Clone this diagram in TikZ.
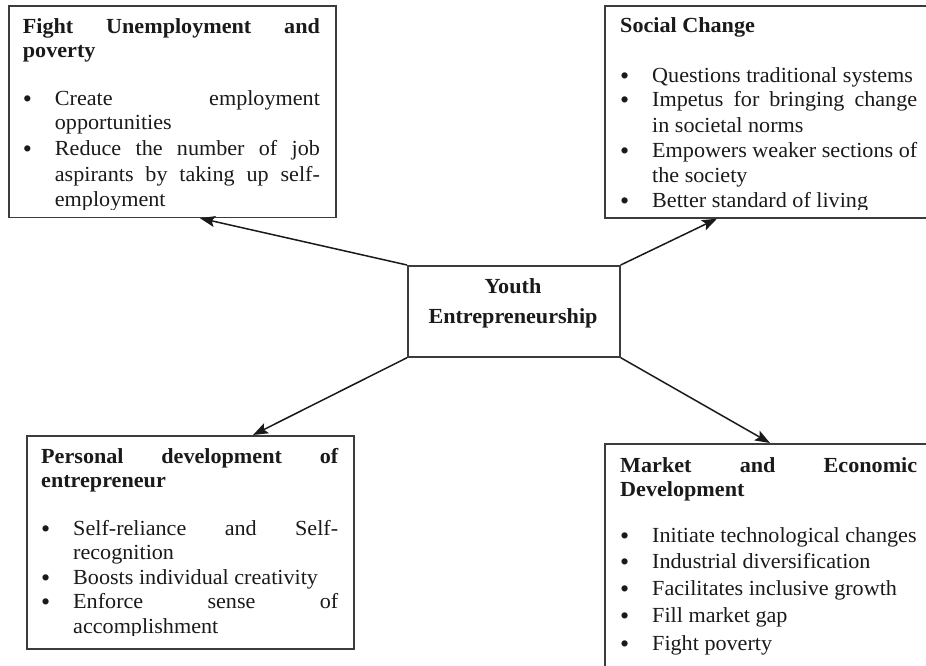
\documentclass[tikz,border=0pt]{standalone}
\usepackage{fontspec}
\setmainfont[FakeStretch=1.03]{Liberation Serif}
\newfontfamily\bulfont{Liberation Serif}
\usetikzlibrary{arrows.meta,calc}
\definecolor{boxline}{HTML}{3C3C3C}
\definecolor{ink}{HTML}{1A1A1A}
\newcommand\bul{\makebox[32pt][l]{\smash{\raisebox{-2pt}{\bulfont\fontsize{26}{26}\selectfont •}}}}
\newcommand\ind{\hspace*{32pt}}
\newcommand\jl[1]{\makebox[265pt][s]{#1}}
\newcommand\jt[1]{\textbf{\makebox[297pt][s]{#1}}}
\newcommand\bodyfont{\fontsize{21.5}{25}\selectfont}
\begin{document}
\begin{tikzpicture}[x=1pt,y=-1pt,
  box/.style={draw=boxline, line width=1.7pt, inner sep=0pt, anchor=north west},
  conn/.style={draw=ink, line width=1.5pt, -{Stealth[length=15pt,width=11pt,inset=3pt]}},
  txt/.style={inner sep=0pt, anchor=base west, text=ink}]
\useasboundingbox (0,0) rectangle (926,666);
\clip (0,0) rectangle (926,666);
\fill[white] (0,0) rectangle (926,666);

% boxes
\node[box, minimum width=327pt, minimum height=211.5pt] (tl) at (8,5) {};
\node[box, minimum width=340pt, minimum height=212pt] (tr) at (604,5) {};
\node[box, minimum width=212pt, minimum height=91pt] (yc) at (407,265) {};
\node[box, minimum width=327pt, minimum height=213pt] (bl) at (26,435) {};
\node[box, minimum width=340pt, minimum height=250pt] (br) at (604,443) {};

% texts
\begin{scope}
\clip (8,5) rectangle (335,209.5);
\node[txt] (tltext) at (22.7,34) {\parbox[t]{297pt}{\bodyfont
\jt{Fight Unemployment and}\\[-1pt]
\textbf{poverty}\\[23pt]
\bul\jl{Create employment}\\[-1pt]
\ind opportunities\\[1pt]
\bul\jl{Reduce the number of job}\\[1pt]
\ind\jl{aspirants by taking up self-}\\
\ind employment}};
\end{scope}

\begin{scope}
\clip (604,5) rectangle (926,209.5);
\node[txt] (trtext) at (620,33) {\parbox[t]{297pt}{\bodyfont
\textbf{Social Change}\\[25pt]
\bul Questions traditional systems\\[-1pt]
\bul\jl{Impetus for bringing change}\\[1pt]
\ind in societal norms\\
\bul\jl{Empowers weaker sections of}\\
\ind the society\\
\bul Better standard of living}};
\end{scope}

\node[anchor=base, inner sep=0pt, text=ink] (yctext) at (513,293)
  {\parbox[t]{210pt}{\centering\fontsize{21.5}{30}\selectfont\bfseries Youth\\Entrepreneurship}};

\begin{scope}
\clip (26,435) rectangle (353,635);
\node[txt] (bltext) at (41,463) {\parbox[t]{297pt}{\bodyfont
\jt{Personal development of}\\[-1pt]
\textbf{entrepreneur}\\[23pt]
\bul\jl{Self-reliance and Self-}\\[-1pt]
\ind recognition\\[0.5pt]
\bul Boosts individual creativity\\[-1pt]
\bul\jl{Enforce sense of}\\[-0.5pt]
\ind accomplishment}};
\end{scope}

\node[txt] (brtext) at (620,472) {\parbox[t]{297pt}{\bodyfont
\jt{Market and Economic}\\[-1pt]
\textbf{Development}\\[21pt]
\bul Initiate technological changes\\[1pt]
\bul Industrial diversification\\[2pt]
\bul Facilitates inclusive growth\\[2pt]
\bul Fill market gap\\[3pt]
\bul Fight poverty}};

% connectors
\draw[conn] (yc.north west) -- ($(tl.south west)+(192,0)$);
\draw[conn] (yc.north east) -- ($(tr.south west)+(113,0)$);
\draw[conn] (yc.south west) -- ($(bl.north west)+(227,0)$);
\draw[conn] (yc.south east) -- ($(br.north west)+(166,0)$);
\end{tikzpicture}
\end{document}
